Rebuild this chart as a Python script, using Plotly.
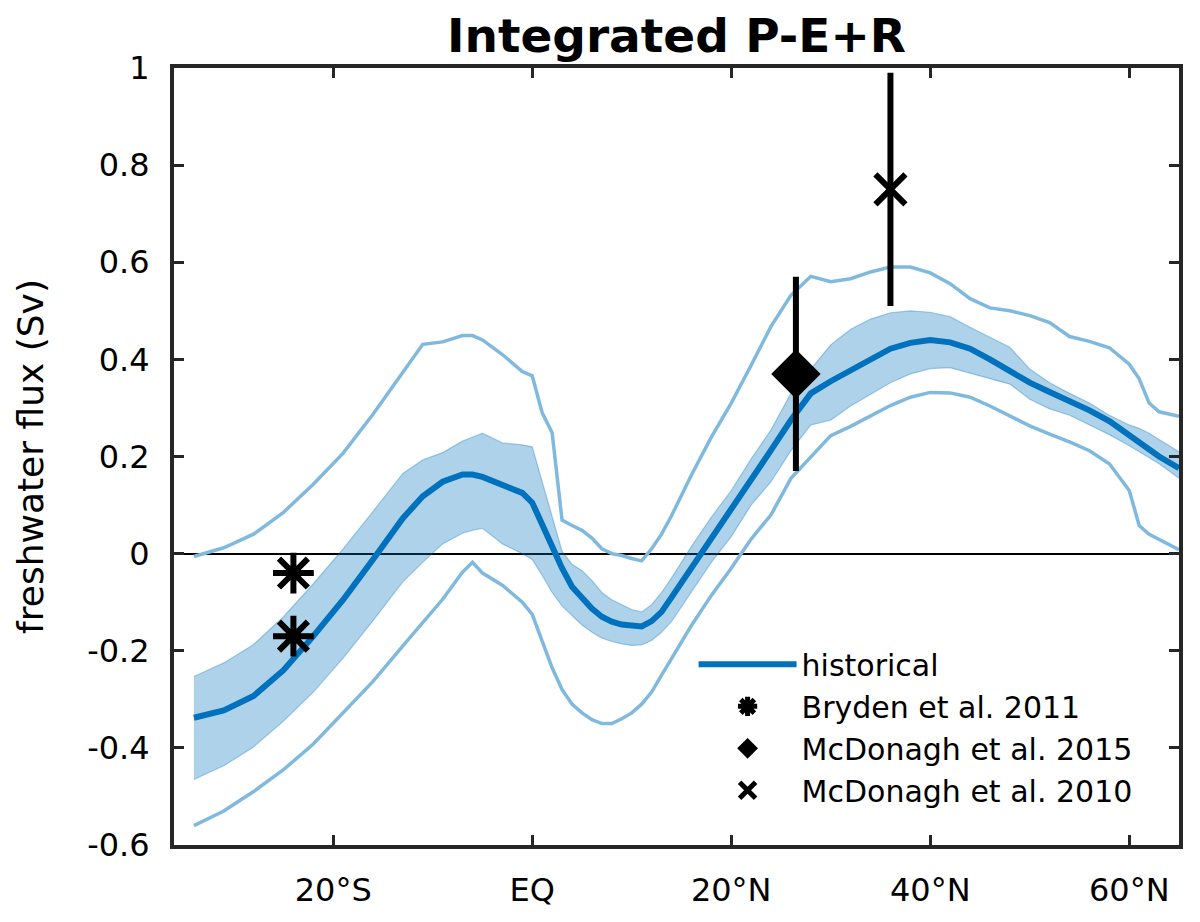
import plotly.graph_objects as go

# latitude grid (deg, negative = south)
lat = [-34, -31, -28, -25, -22, -19, -16, -13, -11, -9, -7, -6, -5, -3, -1,
       0, 1, 2, 3, 4, 5, 6, 7, 8, 9, 10, 11, 12, 13, 14,
       16, 18, 20, 22, 24, 26, 28, 30, 32, 34, 36, 38, 40, 42, 44, 46, 48, 50,
       52, 54, 56, 58, 60, 61, 62, 63, 65]

# multi-model mean, historical (Sv)
hist_mean = [-0.338, -0.323, -0.293, -0.24, -0.17, -0.095, -0.012, 0.073, 0.118, 0.148, 0.163, 0.163, 0.158, 0.142, 0.125,
             0.105, 0.06, 0.012, -0.03, -0.068, -0.092, -0.113, -0.13, -0.14, -0.146, -0.149, -0.15, -0.139, -0.12, -0.09,
             -0.03, 0.028, 0.09, 0.15, 0.213, 0.275, 0.33, 0.355, 0.377, 0.40, 0.422, 0.434, 0.44, 0.435, 0.422, 0.40, 0.376, 0.352,
             0.333, 0.315, 0.295, 0.273, 0.245, 0.23, 0.215, 0.2, 0.176]

# spread band around the mean
band_hi = [-0.253, -0.225, -0.187, -0.13, -0.062, 0.01, 0.087, 0.165, 0.193, 0.208, 0.232, 0.24, 0.248, 0.228, 0.224,
           0.22, 0.15, 0.075, 0.005, -0.022, -0.035, -0.055, -0.08, -0.095, -0.105, -0.115, -0.12, -0.105, -0.08, -0.05,
           0.015, 0.075, 0.13, 0.195, 0.255, 0.33, 0.38, 0.43, 0.462, 0.483, 0.496, 0.5, 0.497, 0.488, 0.466, 0.445, 0.425, 0.38,
           0.352, 0.33, 0.31, 0.285, 0.265, 0.258, 0.248, 0.235, 0.21]
band_lo = [-0.465, -0.437, -0.398, -0.345, -0.285, -0.215, -0.138, -0.058, -0.018, 0.02, 0.042, 0.048, 0.052, 0.02, 0.0,
           -0.012, -0.045, -0.08, -0.108, -0.128, -0.147, -0.162, -0.174, -0.181, -0.186, -0.189, -0.188, -0.179, -0.162, -0.14,
           -0.08, -0.018, 0.035, 0.1, 0.148, 0.212, 0.265, 0.275, 0.304, 0.328, 0.352, 0.37, 0.381, 0.383, 0.372, 0.36, 0.349, 0.318,
           0.298, 0.285, 0.265, 0.245, 0.222, 0.21, 0.198, 0.185, 0.155]

# model range
max_line = [-0.006, 0.012, 0.04, 0.085, 0.143, 0.207, 0.287, 0.373, 0.431, 0.436, 0.449, 0.449, 0.44, 0.41, 0.375,
            0.366, 0.29, 0.249, 0.069, 0.058, 0.048, 0.032, 0.01, 0.0, -0.004, -0.01, -0.015, 0.01, 0.04, 0.078,
            0.162, 0.24, 0.31, 0.388, 0.468, 0.532, 0.571, 0.56, 0.566, 0.58, 0.59, 0.59, 0.578, 0.556, 0.525, 0.506, 0.5, 0.49,
            0.476, 0.447, 0.437, 0.424, 0.39, 0.36, 0.31, 0.292, 0.283]
min_line = [-0.56, -0.53, -0.49, -0.445, -0.392, -0.328, -0.263, -0.19, -0.143, -0.094, -0.038, -0.018, -0.04, -0.065, -0.1,
            -0.125, -0.18, -0.235, -0.28, -0.31, -0.328, -0.342, -0.35, -0.35, -0.34, -0.328, -0.31, -0.285, -0.25, -0.215,
            -0.148, -0.086, -0.03, 0.03, 0.08, 0.155, 0.2, 0.243, 0.262, 0.283, 0.305, 0.322, 0.332, 0.331, 0.322, 0.304, 0.283, 0.263,
            0.246, 0.23, 0.212, 0.185, 0.13, 0.058, 0.04, 0.03, 0.008]

# observations
bryden_lat = [-24, -24]
bryden_val = [-0.04, -0.17]
mcd15_lat = [26.5]
mcd15_val = [0.37]
mcd15_err = [0.2]
mcd10_lat = [36]
mcd10_val = [0.75]
mcd10_err = [0.24]

xtick_vals = [-20, 0, 20, 40, 60]
xtick_text = ['20°S', 'EQ', '20°N', '40°N', '60°N']
ytick_vals = [-0.6, -0.4, -0.2, 0, 0.2, 0.4, 0.6, 0.8, 1]
ytick_text = ['-0.6', '-0.4', '-0.2', '0', '0.2', '0.4', '0.6', '0.8', '1']

blue = '#0072BD'
light = '#80B9DE'
FONT = 'DejaVu Sans'

fig = go.Figure()

# shaded spread
fig.add_trace(go.Scatter(x=lat, y=band_lo, mode='lines',
                         line=dict(color='rgba(0,114,189,0.32)', width=1.2),
                         showlegend=False, hoverinfo='skip'))
fig.add_trace(go.Scatter(x=lat, y=band_hi, mode='lines', fill='tonexty',
                         fillcolor='rgba(0,114,189,0.32)',
                         line=dict(color='rgba(0,114,189,0.32)', width=1.2),
                         showlegend=False, hoverinfo='skip'))

# min / max
fig.add_trace(go.Scatter(x=lat, y=max_line, mode='lines',
                         line=dict(color=light, width=3.5), showlegend=False))
fig.add_trace(go.Scatter(x=lat, y=min_line, mode='lines',
                         line=dict(color=light, width=3.5), showlegend=False))

# mean
fig.add_trace(go.Scatter(x=lat, y=hist_mean, mode='lines', name='historical',
                         line=dict(color=blue, width=6)))

fig.add_trace(go.Scatter(x=bryden_lat, y=bryden_val, mode='markers',
                         name='Bryden et al. 2011',
                         marker=dict(symbol='asterisk-open', size=34, color='black',
                                     line=dict(color='black', width=6))))
fig.add_trace(go.Scatter(x=mcd15_lat, y=mcd15_val, mode='markers',
                         name='McDonagh et al. 2015',
                         error_y=dict(type='data', array=mcd15_err, color='black',
                                      thickness=6, width=0),
                         marker=dict(symbol='diamond', size=38, color='black')))
fig.add_trace(go.Scatter(x=mcd10_lat, y=mcd10_val, mode='markers',
                         name='McDonagh et al. 2010',
                         error_y=dict(type='data', array=mcd10_err, color='black',
                                      thickness=6, width=0),
                         marker=dict(symbol='x-thin-open', size=30, color='black',
                                     line=dict(color='black', width=6))))

axis_style = dict(
    ticks='inside', ticklen=10, tickwidth=3, tickcolor='#262626',
    showline=True, linecolor='#262626', linewidth=4, mirror='ticks',
    showgrid=False, layer='above traces',
    tickfont=dict(family=FONT, size=32, color='black'),
)

fig.update_xaxes(range=[-36, 65], tickvals=xtick_vals, ticktext=xtick_text,
                 zeroline=False, ticklabelstandoff=14, **axis_style)
fig.update_yaxes(range=[-0.6, 1], tickvals=ytick_vals, ticktext=ytick_text,
                 zeroline=True, zerolinecolor='black', zerolinewidth=1.5,
                 ticklabelstandoff=14,
                 title=dict(text='freshwater flux (Sv)', standoff=34,
                            font=dict(family=FONT, size=36, color='black')),
                 **axis_style)

# page body adds 8px, so margins are shifted by that much
fig.update_layout(
    width=1200, height=922,
    margin=dict(l=166, r=29, t=60, b=85),
    plot_bgcolor='white', paper_bgcolor='white',
    font=dict(family=FONT, color='black'),
    title=dict(text='Integrated P-E+R', x=0.5, xref='paper', xanchor='center',
               y=0.97, yref='container', yanchor='middle',
               font=dict(family=FONT, size=47, weight=700, color='black')),
    legend=dict(x=0.517, y=0.266, xanchor='left', yanchor='top',
                traceorder='normal', bgcolor='rgba(0,0,0,0)', itemwidth=98,
                font=dict(family=FONT, size=30, color='black')),
)

fig.write_html("out.html")
